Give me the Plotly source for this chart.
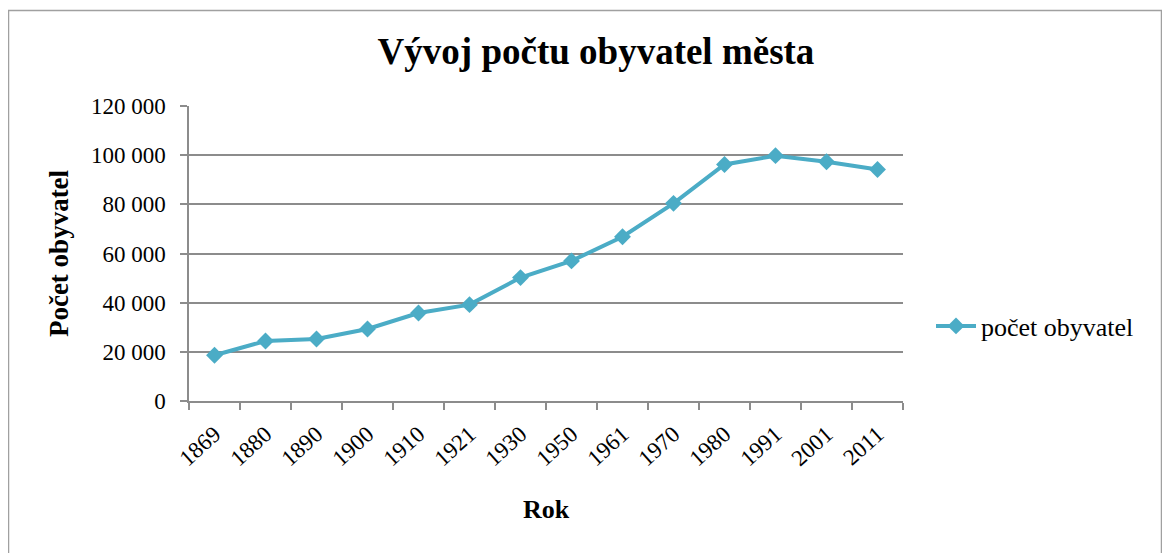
import plotly.graph_objects as go

years = ["1869", "1880", "1890", "1900", "1910", "1921", "1930", "1950",
         "1961", "1970", "1980", "1991", "2001", "2011"]
population = [18600, 24400, 25200, 29300, 35800, 39200, 50200, 57000,
              66800, 80400, 96200, 99800, 97300, 94200]
series_name = "počet obyvatel"
y_ticks = [0, 20000, 40000, 60000, 80000, 100000, 120000]

FONT = "Liberation Serif, Times New Roman, serif"
LINE = "#4BACC6"
GRID = "#8C8C8C"

# page body adds an 8px offset; design in screen px, convert to figure px
OFF = 8
W, H = 1170, 553
L, R, T, B = 189 - OFF, 903 - OFF, 106 - OFF, 401 - OFF
pw, ph = R - L, B - T

def px(x):
    return (x - OFF - L) / pw

def py(y):
    return (B - (y - OFF)) / ph

fig = go.Figure()
fig.add_trace(go.Scatter(
    x=years, y=population, name=series_name, mode="lines+markers",
    line=dict(color=LINE, width=4),
    marker=dict(symbol="diamond", size=13, color=LINE),
))

fig.update_layout(
    width=W, height=H,
    margin=dict(l=L, r=W - R, t=T, b=H - B),
    paper_bgcolor="white", plot_bgcolor="white",
    separators=", ",
    font=dict(family=FONT, size=23, color="black"),
    title=dict(text="<b>Vývoj počtu obyvatel města</b>", x=px(596), xref="paper",
               xanchor="center", y=1 - (51 - OFF) / H, yanchor="middle",
               font=dict(size=37, family=FONT)),
    showlegend=True,
    legend=dict(x=px(931), xref="paper", y=py(326), yanchor="middle", xanchor="left",
                font=dict(size=26, family=FONT), bgcolor="rgba(0,0,0,0)",
                itemwidth=40),
    xaxis=dict(
        type="category", tickson="boundaries", ticks="outside", ticklen=7,
        tickcolor=GRID, tickwidth=1.5, showline=True, linecolor=GRID, linewidth=1.5,
        showgrid=False, tickangle=-42, tickfont=dict(size=23, family=FONT),
        ticklabelstandoff=9,
        title=dict(text="<b>Rok</b>", font=dict(size=26, family=FONT), standoff=30),
        range=[-0.5, len(years) - 0.5],
    ),
    yaxis=dict(
        range=[0, 120000], tickvals=y_ticks, tickformat=",d",
        ticks="outside", ticklen=7, tickcolor=GRID, tickwidth=1.5,
        showline=True, linecolor=GRID, linewidth=1.5,
        showgrid=True, gridcolor=GRID, gridwidth=1.5, zeroline=False,
        tickfont=dict(size=23, family=FONT), ticklabelstandoff=10,
        title=dict(text="<b>Počet obyvatel</b>", font=dict(size=27, family=FONT), standoff=14),
    ),
    shapes=[dict(type="rect", xref="paper", yref="paper",
                 x0=px(8.5), x1=px(1161.5), y0=py(580), y1=py(10.5),
                 line=dict(color="#A0A0A0", width=1.5), layer="below")],
)

fig.write_html("out.html")
